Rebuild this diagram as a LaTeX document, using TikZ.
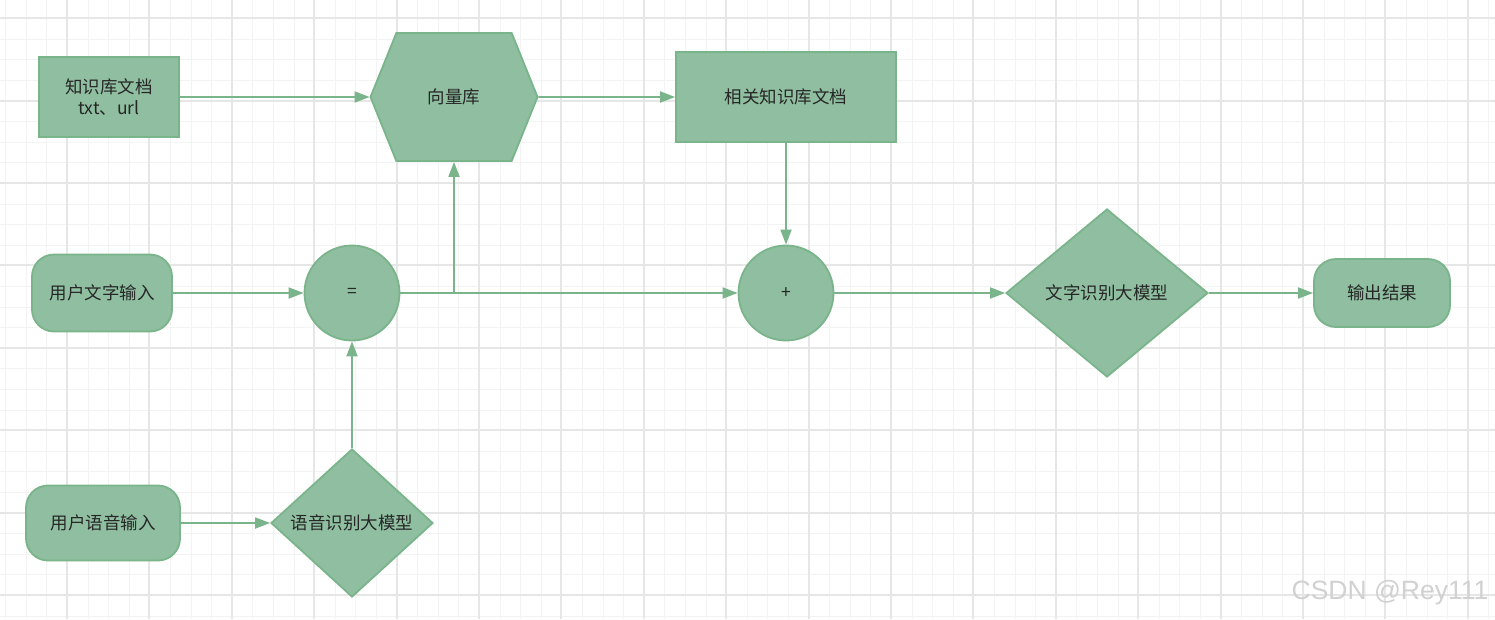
\documentclass[tikz,border=0pt]{standalone}
\usepackage{fontspec}
\setmainfont{Liberation Sans}
\newfontfamily\cjk{Noto Sans CJK SC}
\usetikzlibrary{shapes.geometric,shapes.symbols,arrows.meta}
\definecolor{nodefill}{RGB}{143,191,160}
\definecolor{nodeline}{RGB}{122,180,138}
\definecolor{gridmajor}{RGB}{230,230,230}
\definecolor{gridminor}{RGB}{243,243,243}
\tikzset{%
  base/.style={draw=nodeline,fill=nodefill,line width=1.8pt,inner sep=0pt,
    align=center,text=black!85,font=\cjk\fontsize{17.5}{21}\selectfont},%
  docbox/.style={base,rectangle},%
  termbox/.style={base,rectangle,rounded corners=22pt},%
  joint/.style={base,circle,minimum size=95pt},%
  model/.style={base,diamond},%
  store/.style={base,signal,signal to=east and west,signal pointer angle=136},%
  link/.style={draw=nodeline,line width=1.8pt,-{Triangle[length=15pt,width=11pt]}}%
}
\begin{document}
\begin{tikzpicture}[x=1pt,y=-1pt] %
    \useasboundingbox[fill=white] (0,0) rectangle (1495,619);%
    % background grid, snapped to whole pixels
    \foreach \i [evaluate=\i as \gx using {round(5.2+20.6*\i)+0.5}] in {0,...,72}%
      \draw[gridminor,line width=1pt] (\gx,0) -- ++(0,619);%
    \foreach \j [evaluate=\j as \gy using {round(18.2+20.6*\j)+0.5}] in {0,...,29}%
      \draw[gridminor,line width=1pt] (0,\gy) -- ++(1495,0);%
    \foreach \i [evaluate=\i as \gx using {round(-15.4+82.4*\i)}] in {1,...,18}%
      \draw[gridmajor,line width=1.5pt] (\gx,0) -- ++(0,619);%
    \foreach \j [evaluate=\j as \gy using {round(18.2+82.4*\j)}] in {0,...,7}%
      \draw[gridmajor,line width=1.5pt] (0,\gy) -- ++(1495,0);%

    % top row
    \node[docbox,minimum width=140pt,minimum height=80pt] (kb) at (109,97)
      {知识库文档\\txt、url};%
    \node[store,minimum width=167pt,minimum height=128pt] (vdb) at (454,97) {向量库};%
    \node[docbox,minimum width=220pt,minimum height=90pt] (rel) at (786,97)
      {相关知识库文档};%

    % middle row
    \node[termbox,minimum width=140pt,minimum height=77pt] (txtin) at (102,293)
      {用户文字输入};%
    \node[joint] (eq) at (352,293) {=};%
    \node[joint] (plus) at (786,293) {+};%
    \node[model,minimum width=202pt,minimum height=168pt] (txtmodel) at (1107,293)
      {文字识别大模型};%
    \node[termbox,minimum width=136pt,minimum height=68pt] (out) at (1382,293)
      {输出结果};%

    % bottom row
    \node[termbox,minimum width=154pt,minimum height=75pt] (voicein) at (103,523)
      {用户语音输入};%
    \node[model,minimum width=162pt,minimum height=148pt] (voicemodel) at (352,523)
      {语音识别大模型};%

    \draw[link] (kb) -- (vdb);%
    \draw[link] (vdb) -- (rel);%
    \draw[link] (rel) -- (plus);%
    \draw[link] (txtin) -- (eq);%
    \draw[link] (eq) -| (vdb);%
    \draw[link] (eq) -- (plus);%
    \draw[link] (plus) -- (txtmodel);%
    \draw[link] (txtmodel) -- (out);%
    \draw[link] (voicein) -- (voicemodel);%
    \draw[link] (voicemodel) -- (eq);%

    % watermark
    \node[text=black!18,font=\fontsize{26.5}{30}\selectfont] (mark) at (1390,593)
      {CSDN @Rey111};%
  \end{tikzpicture}
\end{document}
